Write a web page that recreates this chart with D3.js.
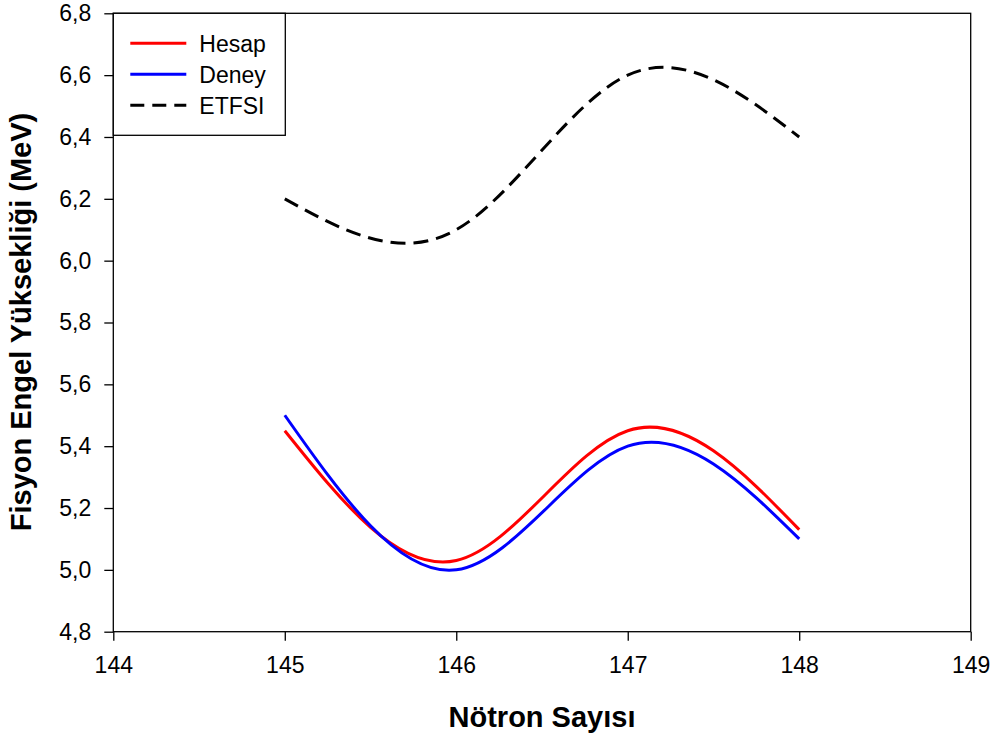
<!DOCTYPE html>
<html>
<head>
<meta charset="utf-8">
<script src="https://cdn.jsdelivr.net/npm/d3@7"></script>
<style>
  body { margin: 0; background: #fff; }
  text { font-family: "Liberation Sans", Arial, sans-serif; }
</style>
</head>
<body>
<div id="chart"></div>
<script>
// data
var neutrons = [145, 146, 147, 148];
var hesap = [5.45, 5.03, 5.45, 5.13];
var deney = [5.5, 5.0, 5.4, 5.1];
var etfsi = [6.2, 6.1, 6.6, 6.4];
var xTicks = [144, 145, 146, 147, 148, 149];
var yTicks = [4.8, 5.0, 5.2, 5.4, 5.6, 5.8, 6.0, 6.2, 6.4, 6.6, 6.8];

var series = [
  {name: "Hesap", values: hesap, color: "#ff0000", dash: null},
  {name: "Deney", values: deney, color: "#0000ff", dash: null},
  {name: "ETFSI", values: etfsi, color: "#000000", dash: "15,8"}
];

var W = 995, H = 738;
var margin = {top: 13.3, right: 24.3, bottom: 106.3, left: 113.3},
    width = W - margin.left - margin.right,
    height = H - margin.top - margin.bottom;

var svg = d3.select("#chart")
  .append("svg")
    .attr("width", W)
    .attr("height", H)
  .append("g")
    .attr("transform", "translate(" + margin.left + "," + margin.top + ")");

var x = d3.scaleLinear().domain([144, 149]).range([0, width]);
var y = d3.scaleLinear().domain([4.8, 6.8]).range([height, 0]);

// X axis
var xAxis = svg.append("g")
  .attr("transform", "translate(0," + height + ")")
  .call(d3.axisBottom(x).tickValues(xTicks).tickSize(9).tickPadding(16).tickFormat(d3.format("d")));

// Y axis
var yAxis = svg.append("g")
  .call(d3.axisLeft(y).tickValues(yTicks).tickSize(9).tickPadding(13)
    .tickFormat(function(d) { return d3.format(".1f")(d).replace(".", ","); }));

[xAxis, yAxis].forEach(function(a) {
  a.select(".domain").remove();
  a.selectAll("line").attr("stroke", "#000").attr("stroke-width", 1.3);
  a.selectAll("text").attr("font-size", 23).attr("fill", "#000")
    .style("font-family", "'Liberation Sans', Arial, sans-serif");
});

// frame
svg.append("rect")
  .attr("x", 0).attr("y", 0)
  .attr("width", width).attr("height", height)
  .attr("fill", "none")
  .attr("stroke", "#000")
  .attr("stroke-width", 1.3);

// Lines
var line = d3.line()
  .x(function(d, i) { return x(neutrons[i]); })
  .y(function(d) { return y(d); })
  .curve(d3.curveNatural);

series.forEach(function(s) {
  svg.append("path")
    .datum(s.values)
    .attr("d", line)
    .attr("fill", "none")
    .attr("stroke", s.color)
    .attr("stroke-width", 3)
    .attr("stroke-dasharray", s.dash);
});

// Legend
var legend = svg.append("g");
legend.append("rect")
  .attr("x", 0).attr("y", 0)
  .attr("width", 172).attr("height", 122)
  .attr("fill", "#fff")
  .attr("stroke", "#000")
  .attr("stroke-width", 1.3);

series.forEach(function(s, i) {
  var ly = 30 + i * 31;
  legend.append("line")
    .attr("x1", 17).attr("x2", 73)
    .attr("y1", ly).attr("y2", ly)
    .attr("stroke", s.color)
    .attr("stroke-width", 3)
    .attr("stroke-dasharray", s.dash ? "14,8" : null);
  legend.append("text")
    .attr("x", 86).attr("y", ly + 9)
    .attr("font-size", 23)
    .text(s.name);
});

// Axis titles
d3.select("svg").append("text")
  .attr("x", 542).attr("y", 727)
  .attr("text-anchor", "middle")
  .attr("font-size", 29)
  .attr("font-weight", "bold")
  .text("Nötron Sayısı");

d3.select("svg").append("text")
  .attr("transform", "translate(31,322) rotate(-90)")
  .attr("text-anchor", "middle")
  .attr("font-size", 29)
  .attr("font-weight", "bold")
  .text("Fisyon Engel Yüksekliği (MeV)");
</script>
</body>
</html>
